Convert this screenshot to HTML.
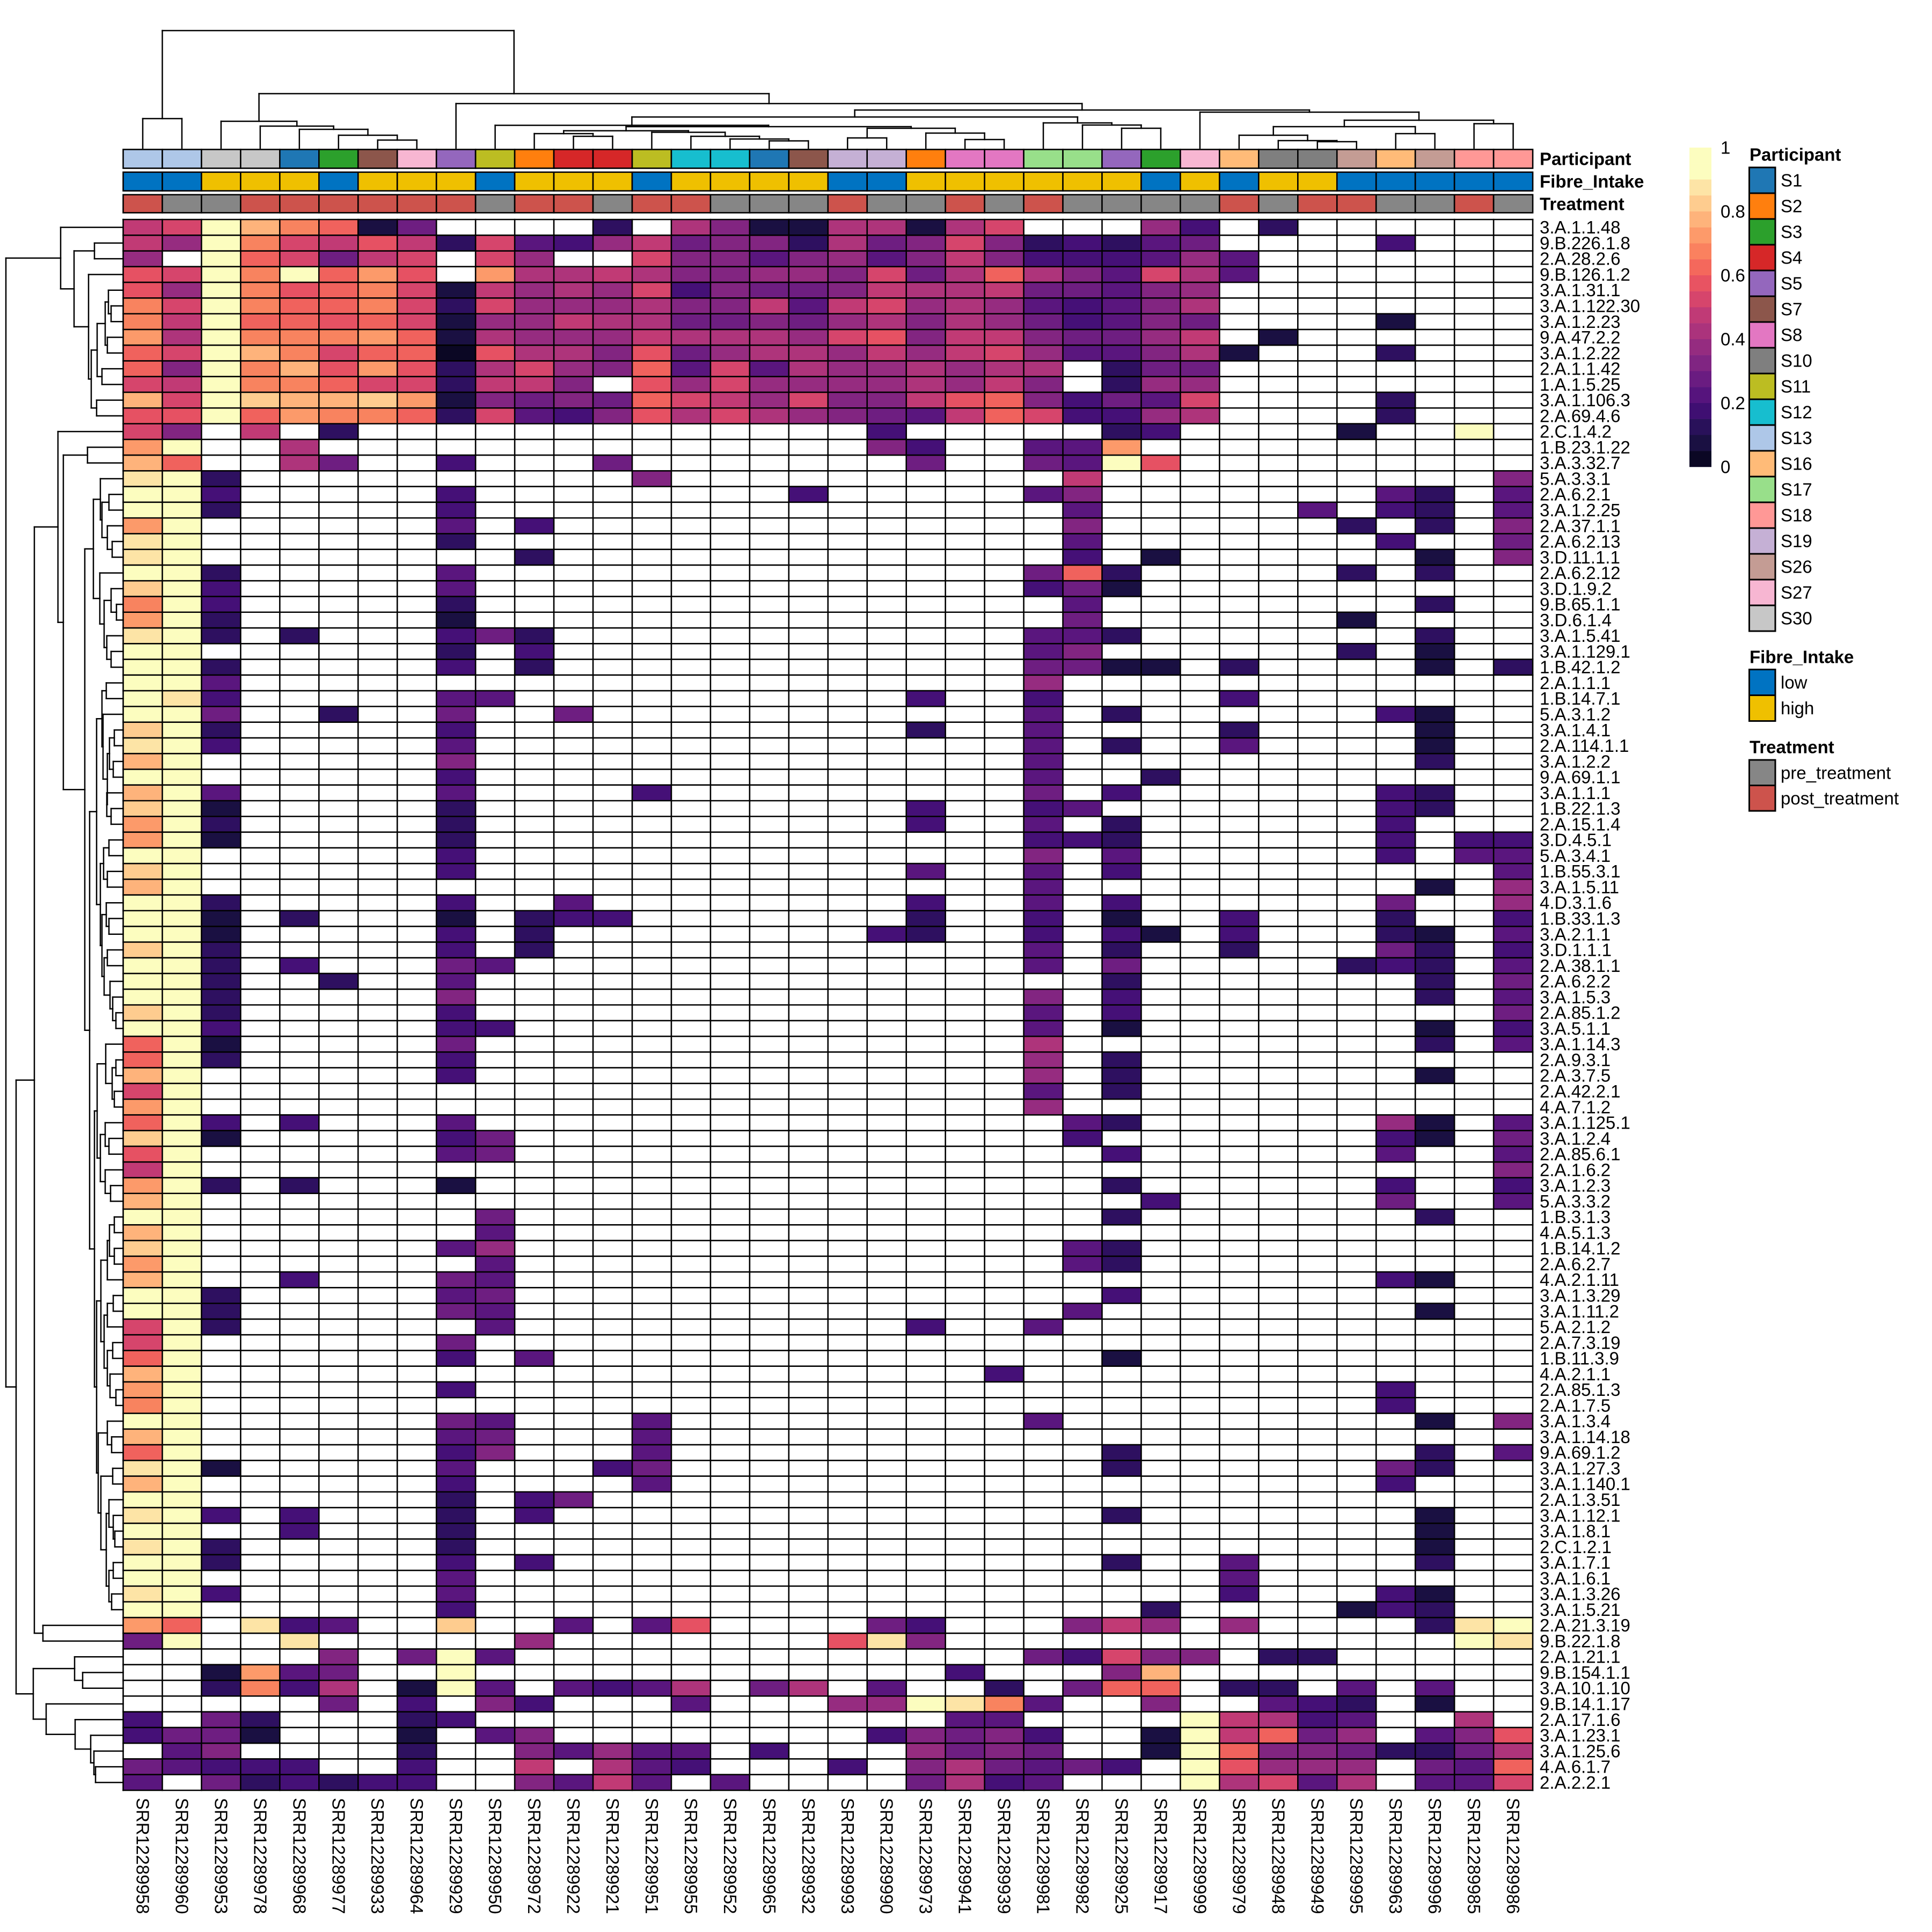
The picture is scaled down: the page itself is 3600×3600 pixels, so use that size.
<!DOCTYPE html>
<html><head><meta charset="utf-8">
<style>
html,body{margin:0;padding:0;background:#fff;width:3600px;height:3600px;overflow:hidden;}
svg{display:block;}
text{font-family:"Liberation Sans",Arial,sans-serif;fill:#000;}
</style></head>
<body>
<svg id="s" xmlns="http://www.w3.org/2000/svg" width="3600" height="3600" viewBox="0 0 3600 3600"></svg>
<script>
const RL=["3.A.1.1.48","9.B.226.1.8","2.A.28.2.6","9.B.126.1.2","3.A.1.31.1","3.A.1.122.30","3.A.1.2.23","9.A.47.2.2","3.A.1.2.22","2.A.1.1.42","1.A.1.5.25","3.A.1.106.3","2.A.69.4.6","2.C.1.4.2","1.B.23.1.22","3.A.3.32.7","5.A.3.3.1","2.A.6.2.1","3.A.1.2.25","2.A.37.1.1","2.A.6.2.13","3.D.11.1.1","2.A.6.2.12","3.D.1.9.2","9.B.65.1.1","3.D.6.1.4","3.A.1.5.41","3.A.1.129.1","1.B.42.1.2","2.A.1.1.1","1.B.14.7.1","5.A.3.1.2","3.A.1.4.1","2.A.114.1.1","3.A.1.2.2","9.A.69.1.1","3.A.1.1.1","1.B.22.1.3","2.A.15.1.4","3.D.4.5.1","5.A.3.4.1","1.B.55.3.1","3.A.1.5.11","4.D.3.1.6","1.B.33.1.3","3.A.2.1.1","3.D.1.1.1","2.A.38.1.1","2.A.6.2.2","3.A.1.5.3","2.A.85.1.2","3.A.5.1.1","3.A.1.14.3","2.A.9.3.1","2.A.3.7.5","2.A.42.2.1","4.A.7.1.2","3.A.1.125.1","3.A.1.2.4","2.A.85.6.1","2.A.1.6.2","3.A.1.2.3","5.A.3.3.2","1.B.3.1.3","4.A.5.1.3","1.B.14.1.2","2.A.6.2.7","4.A.2.1.11","3.A.1.3.29","3.A.1.11.2","5.A.2.1.2","2.A.7.3.19","1.B.11.3.9","4.A.2.1.1","2.A.85.1.3","2.A.1.7.5","3.A.1.3.4","3.A.1.14.18","9.A.69.1.2","3.A.1.27.3","3.A.1.140.1","2.A.1.3.51","3.A.1.12.1","3.A.1.8.1","2.C.1.2.1","3.A.1.7.1","3.A.1.6.1","3.A.1.3.26","3.A.1.5.21","2.A.21.3.19","9.B.22.1.8","2.A.1.21.1","9.B.154.1.1","3.A.10.1.10","9.B.14.1.17","2.A.17.1.6","3.A.1.23.1","3.A.1.25.6","4.A.6.1.7","2.A.2.2.1"];
const CS=["58","60","53","78","68","77","33","64","29","50","72","22","21","51","55","52","65","32","93","90","73","41","39","81","82","25","17","99","79","48","49","95","63","96","85","86"];
const D=[
"9AIFDC15.. ..2.861188 18A...73.2 ......",
"97IDA9B92A 4379566285 6A623245.. ..3...",
"7.ICA59A.A 7..A664674 696333474. ......",
"BAIDICEB.E 889866776A 58C864A84. ......",
"B7IDBCDA19 787A365569 88955467.. ......",
"DAIDCCDA2A 777866949A 78743468.. ......",
"D9ICCBCA17 7988556578 68753465.. ..1...",
"E8IDDDEC18 77798887AB 69965579.1 ......",
"CAIFDACC0B 886B578879 79A744681. ..2...",
"C6IDFBEB28 A76C4A4877 8788.255.. ......",
"A9IDDCAA29 96.B7A7777 8796.277.. ......",
"FAIGFFGE16 565CA97A66 9BC6354A.. ..2...",
"BBICEDDC2A 436B8A8765 49CA3378.. ..2...",
"A6.9.2.... .........3 .....23... .1..I.",
"EI..8..... .........6 3..44E.... ......",
"FC..85..3. ..5....... 5..54IB... ......",
"HI2....... ...6...... ....9..... .....6",
"II3.....3. .......3.. ...46..... ..42.4",
"II2.....3. .......... ....4..... 4.32.4",
"EI......4. 3......... ....6..... .2.2.6",
"HI......2. .......... ....4..... ..3..5",
"HI........ 2......... ....3.1... ...1.6",
"II2.....4. .......... ...5C2.... .2.2..",
"GI3.....4. .......... ...351.... ......",
"DI3.....2. .......... ....4..... ...2..",
"EI2.....1. .......... ....5..... .1....",
"HI2.2...35 2......... ...442.... ...2..",
"II......2. 3......... ...46..... .2.1..",
"II2.....3. 2......... ...5511.2. ...1.2",
"II4....... .......... ...7...... ......",
"IH3.....44 .......... 3..3....3. ......",
"II5..2..5. .5........ ...4.2.... ..31..",
"GI2.....3. .......... 2..4....2. ...1..",
"HI3.....4. .......... ...4.2..4. ...1..",
"FI......6. .......... ...4...... ...2..",
"II......3. .......... ...4..2... ......",
"FI4.....4. ...3...... ...5.3.... ..32..",
"GI1.....2. .......... 3..34..... ..32..",
"EI2.....2. .......... 3..4.2.... ..3...",
"EI1.....2. .......... ...332.... ..3.33",
"II......3. .......... ...6.4.... ..3.44",
"GI......3. .......... 4..4.3.... .....4",
"FI........ .......... ...4...... ...1.7",
"II2.....3. .4........ 3..4.3.... ..5..7",
"II1.2...1. 233....... 2..3.1..3. ..2..3",
"II1.....3. 2........3 2..3.31.3. ..21.4",
"GI2.....3. 2......... ...4.2..2. ..52.3",
"II2.3...54 .......... ...4.5.... .232.4",
"II2..2..4. .......... .....2.... ...2.5",
"II2.....6. .......... ...6.3.... ...2.4",
"GI2.....3. .......... ...4.3.... .....5",
"II3.....33 .......... ...4.1.... ...1.3",
"CI1.....5. .......... ...8...... ...2.4",
"CI2.....3. .......... ...7.2.... ......",
"FI......3. .......... ...7.2.... ...1..",
"AI........ .......... ...4.2.... ......",
"EI........ .......... ...7...... ......",
"CI3.3...4. .......... ....42.... ..71.4",
"GI1.....35 .......... ....3..... ..31.5",
"BI......45 .......... .....3.... ..4..4",
"9I........ .......... .......... .....6",
"EI2.2...1. .......... .....2.... ..3..3",
"FI........ .......... ......3... ..5..4",
"II.......5 .......... .....2.... ...2..",
"FI.......4 .......... .......... ......",
"GI......47 .......... ....42.... ......",
"EI.......4 .......... ....42.... ......",
"FI..3...54 .......... .......... ..31..",
"II2.....45 .......... .....3.... ......",
"II2.....54 .......... ....4..... ...1..",
"AI2......4 .......... 3..4...... ......",
"AI......5. .......... .......... ......",
"CI......3. 4......... .....1.... ......",
"FI........ .......... ..3....... ......",
"EI......3. .......... .......... ..3...",
"DI........ .......... .......... ..3...",
"II......54 ...4...... ...4...... ...1.6",
"FI......45 ...4...... .......... ......",
"CI......36 ...4...... .....2.... ...2.4",
"HI1.....4. ..35...... .....2.... ..52..",
"FI......3. ...4...... .......... ..3...",
"II......2. 35........ .......... ......",
"HI3.3...2. 3......... .....2.... ...1..",
"II..3...2. .......... .......... ...1..",
"HI2.....2. .......... .......... ...1..",
"II2.....3. 3......... .....2..4. ...2..",
"II......4. .......... ........4. ......",
"HI3.....4. .......... ........3. ..31..",
"II......3. .......... ......2... .132..",
"EC.H34..G. .4.4B....5 3...697.7. ...2HI",
"5I..H..... 7.......BH 6......... ....IH",
".....6.5I4 .......... ...53A66.2 2.....",
"..1E45..I. .......... .3...6F... ......",
"..2D38.1I4 .4348.58.4 ..2.5CC.22 .4.4..",
".....5.3.6 3...4...77 IHD4..6..4 32.1..",
"3.52...23. .......... .44....I98 34..8.",
"3551...1.4 6........3 6563..1I9C 57.46B",
".46....2.. 64744.3... 7565..1IC6 652258",
"54333..3.. 9.843...3. 685453.IB7 77.54C",
"4.523233.. 6494.4.... 5834...I8A 48.44A"];
const C={'.':'#FFFFFF','0':'#0B0724','1':'#1A1042','2':'#2E1060','3':'#451077','4':'#5A167E','5':'#6E1E81','6':'#822581','7':'#962C80','8':'#AE347B','9':'#C13A75','A':'#D6456C','B':'#E65163','C':'#F0625D','D':'#F8835F','E':'#FC9A6A','F':'#FEB37B','G':'#FECC8F','H':'#FDE4A6','I':'#FCFDBF'};
const PC={1:'#1F77B4',2:'#FF7F0E',3:'#2CA02C',4:'#D62728',5:'#9467BD',7:'#8C564B',8:'#E377C2',10:'#7F7F7F',11:'#BCBD22',12:'#17BECF',13:'#AEC7E8',16:'#FFBB78',17:'#98DF8A',18:'#FF9896',19:'#C5B0D5',26:'#C49C94',27:'#F7B6D2',30:'#C7C7C7'};
const PART=[13,13,30,30,1,3,7,27,5,11,2,4,4,11,12,12,1,7,19,19,2,8,8,17,17,5,3,27,16,10,10,26,16,26,18,18];
const FIB="LLHHHLHHHLHHHLHHHHLLHHHHHHLHLHHLLLLL";
const TRT="PRRPPPPPPRPPRPPRRRPRRPRPRRRRPRPPRRPR";
const X0=229.5,CW=72.96,Y0=409,RH=29.27;
const o=[];
function f(v){return (+v).toFixed(2);}
function R(x,y,w,h,fill,sw){o.push('<rect x="'+f(x)+'" y="'+f(y)+'" width="'+f(w)+'" height="'+f(h)+'" fill="'+fill+'"'+(sw?' stroke="#000" stroke-width="'+sw+'"':'')+'/>');}
function L(x1,y1,x2,y2,sw){o.push('<line x1="'+f(x1)+'" y1="'+f(y1)+'" x2="'+f(x2)+'" y2="'+f(y2)+'" stroke="#000" stroke-width="'+(sw||2.5)+'" stroke-linecap="square"/>');}
function T(x,y,s,extra){o.push('<text x="'+f(x)+'" y="'+f(y)+'" font-size="33" dominant-baseline="central" '+(extra||'')+'>'+s+'</text>');}
// heatmap cells
for(let r=0;r<100;r++){
  let s=D[r].replace(/ /g,''); while(s.length<36) s+='.';
  for(let c=0;c<36;c++){const col=C[s[c]]||'#FFFFFF'; if(col!=='#FFFFFF') R(X0+c*CW,Y0+r*RH,CW,RH,col);}
}
for(let c=0;c<=36;c++){L(X0+c*CW,Y0,X0+c*CW,Y0+100*RH,2.6);}
for(let r=0;r<=100;r++){L(X0,Y0+r*RH,X0+36*CW,Y0+r*RH,2.6);}
// annotations
for(let c=0;c<36;c++){
  const x=X0+c*CW;
  R(x,278.5,CW,35,PC[PART[c]],2.6);
  R(x,320.8,CW,34.8,FIB[c]==='L'?'#0073C2':'#EFC000',2.6);
  R(x,362.8,CW,33.6,TRT[c]==='P'?'#CD534C':'#868686',2.6);
}
T(2869,296,'Participant','font-weight="bold"');
T(2869,338,'Fibre_Intake','font-weight="bold"');
T(2869,380,'Treatment','font-weight="bold"');
// row labels
for(let r=0;r<100;r++){T(2869,Y0+(r+0.5)*RH,RL[r]);}
// column labels
for(let c=0;c<36;c++){const cx=X0+(c+0.5)*CW;o.push('<text transform="translate('+f(cx)+',3350) rotate(90)" font-size="33" dominant-baseline="central">SRR122899'+CS[c]+'</text>');}
// left dendrogram
function lpos(n){if(typeof n==='number'){return {x:X0,y:Y0+(n-0.5)*RH};}
  const a=lpos(n[1]),b=lpos(n[2]);const x=n[0];
  L(x,a.y,x,b.y);L(x,a.y,a.x,a.y);L(x,b.y,b.x,b.y);
  return {x:x,y:(a.y+b.y)/2};}
const Cn=[174,[187,17,[190,[203,18,19],[200,20,[209,21,22]]]],[186,23,[194,[207,24,[217,25,26]],[199,27,[207,28,29]]]]];
const D1=[180,[190,[198,30,31],[192,32,[200,[204,[213,33,34],[211,35,36]],[199,37,[207,38,39]]]]],[187,[193,[203,40,41],[200,42,43]],[190,[198,44,[203,45,46]],[194,[200,47,48],[205,49,[210,50,[216,51,52]]]]]]];
const D2a=[181,[197,53,[209,[216,54,55],[213,56,57]]],[187,[196,58,[203,59,60]],[196,61,[206,62,63]]]];
const E=[188,[200,[204,[213,64,65],[213,66,67]],68],[194,[200,[211,69,70],71],[200,[210,72,73],[205,74,[216,75,76]]]]];
const F=[183,[200,77,[208,78,79]],[188,[210,80,81],[198,[203,82,[211,83,[214,84,85]]],[203,[211,86,87],[208,88,89]]]]];
const Dn=[167,D1,[176,D2a,[180,E,F]]];
const Bz=[158,Cn,Dn];
const B1=[64,[108,14,[118,[163,15,16],Bz]],[80,90,91]];
const B2=[62,[139,92,[154,93,94]],[86,95,[140,96,[169,97,[175,98,[178,99,100]]]]]];
const A=[113,1,[138,[176,2,3],[165,4,[170,[181,[196,[202,5,[207,6,7]],[200,8,9]],[190,10,11]],[180,12,13]]]]];
lpos([11,A,[30,B1,B2]]);
// top dendrogram
function tpos(n){if(typeof n==='number'){return {x:X0+(n-0.5)*CW,y:276};}
  const a=tpos(n[1]),b=tpos(n[2]);const y=n[0];
  L(a.x,y,b.x,y);L(a.x,y,a.x,a.y);L(b.x,y,b.x,b.y);
  return {x:(a.x+b.x)/2,y:y};}
const R6=[243.6,[249,11,[254,12,13]],[246.5,14,[254,15,[259,16,[262.5,17,18]]]]];
const R7=[239,[257,19,20],[248,21,[260,22,23]]];
const R5=[233.5,10,[236,R6,R7]];
const R3=[218,R5,[229,24,[233,25,[239,26,27]]]];
const R4=[209,28,[224,[236,[252,29,[262,30,[264,31,32]]],[249,33,34]],[230.5,35,36]]];
tpos([57,[221,1,2],[174.5,[226,3,[235,4,[241,5,[252,6,[261,7,8]]]]],[193,9,[205,R3,R4]]]]);
// color bar legend
const BAND=['#FCFDBF','#FCFDBF','#FDE4A6','#FECC8F','#FEB37B','#FD9A6A','#FA815F','#F4685C','#E85362','#D6456C','#C03A76','#AB337C','#952C80','#802582','#6A1C81','#56147D','#3F0F72','#29115A','#1A1042','#0B0724'];
for(let i=0;i<20;i++){R(3148,275+i*29.75,41,29.95,BAND[i]);}
[[1,'1'],[0.8,'0.8'],[0.6,'0.6'],[0.4,'0.4'],[0.2,'0.2'],[0,'0']].forEach(function(p){T(3206,870-p[0]*595,p[1]);});
// Participant legend
T(3260,288,'Participant','font-weight="bold"');
const PL=[1,2,3,4,5,7,8,10,11,12,13,16,17,18,19,26,27,30];
PL.forEach(function(p,i){R(3259.5,312+i*48,48.5,48,PC[p],3);T(3318,312+i*48+24,'S'+p);});
T(3260,1224,'Fibre_Intake','font-weight="bold"');
R(3259.5,1247.5,48.5,48,'#0073C2',3);T(3318,1271.5,'low');
R(3259.5,1295.5,48.5,48,'#EFC000',3);T(3318,1319.5,'high');
T(3260,1392,'Treatment','font-weight="bold"');
R(3259.5,1416,48.5,47.5,'#868686',3);T(3318,1440,'pre_treatment');
R(3259.5,1463.5,48.5,47.5,'#CD534C',3);T(3318,1487.5,'post_treatment');
document.getElementById('s').innerHTML=o.join('');
</script>
</body></html>
